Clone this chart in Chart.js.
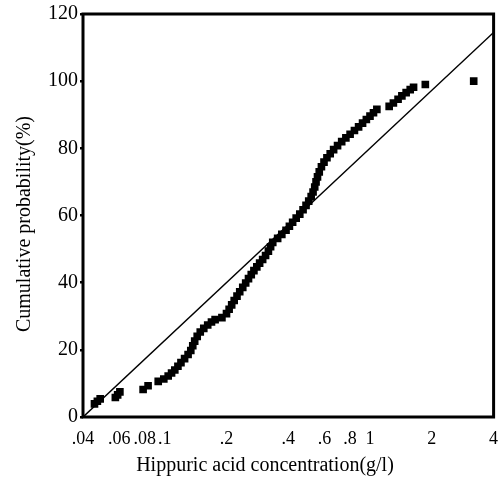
<!DOCTYPE html>
<html>
<head>
<meta charset="utf-8">
<script src="https://cdn.jsdelivr.net/npm/chart.js@4"></script>
<style>
  html, body { margin: 0; padding: 0; background: #fff; }
</style>
</head>
<body>
<canvas id="chart" width="499" height="480"></canvas>
<script>
// axis ticks
const xTickValues = [0.04, 0.06, 0.08, 0.1, 0.2, 0.4, 0.6, 0.8, 1, 2, 4];
const xTickLabels = [".04", ".06", ".08", ".1", ".2", ".4", ".6", ".8", "1", "2", "4"];
const yTickValues = [0, 20, 40, 60, 80, 100, 120];

const xTitle = "Hippuric acid concentration(g/l)";
const yTitle = "Cumulative probability(%)";

// observed points
const concentration = [
  0.0455, 0.047, 0.0485, 0.0575, 0.059, 0.0605, 0.0785, 0.083, 0.093, 0.099,
  0.104, 0.108, 0.112, 0.116, 0.12, 0.125, 0.13, 0.134, 0.137, 0.14,
  0.144, 0.149, 0.155, 0.162, 0.169, 0.176, 0.19, 0.2, 0.206, 0.212,
  0.218, 0.225, 0.232, 0.24, 0.248, 0.256, 0.264, 0.272, 0.281, 0.29,
  0.3, 0.31, 0.32, 0.328, 0.336, 0.355, 0.372, 0.39, 0.405, 0.42,
  0.437, 0.455, 0.472, 0.488, 0.503, 0.517, 0.528, 0.538, 0.546, 0.555,
  0.566, 0.58, 0.597, 0.617, 0.64, 0.665, 0.695, 0.728, 0.763, 0.8,
  0.84, 0.88, 0.92, 0.96, 1.0, 1.04, 1.08, 1.24, 1.3, 1.37,
  1.43, 1.5, 1.57, 1.63, 1.86, 3.2
];
const cumulative = [
  3.9, 4.7, 5.4, 5.8, 6.6, 7.5, 8.2, 9.3, 10.6, 11.3,
  12.2, 13.1, 14.0, 15.1, 16.2, 17.4, 18.6, 19.8, 21.2, 22.6,
  24.0, 25.3, 26.4, 27.4, 28.3, 29.0, 29.6, 30.8, 32.1, 33.4,
  34.7, 36.0, 37.3, 38.6, 39.9, 41.2, 42.4, 43.6, 44.7, 45.8,
  46.9, 48.1, 49.4, 50.7, 52.0, 53.2, 54.4, 55.6, 56.8, 58.0,
  59.2, 60.4, 61.7, 63.0, 64.3, 65.6, 67.0, 68.5, 70.0, 71.5,
  73.0, 74.5, 75.9, 77.2, 78.4, 79.6, 80.8, 82.0, 83.1, 84.2,
  85.3, 86.4, 87.5, 88.6, 89.6, 90.6, 91.6, 92.5, 93.5, 94.6,
  95.6, 96.6, 97.5, 98.2, 99.0, 100
];

// reference line end points
const refLineX = [0.04, 4];
const refLineY = [0, 114.5];

const FONT = "Liberation Serif";

// plot frame + titles
const frame = {
  id: "frame",
  afterDraw(chart) {
    const { ctx, chartArea: a } = chart;
    ctx.save();
    ctx.strokeStyle = "#000";
    ctx.lineWidth = 3;
    ctx.strokeRect(a.left, a.top, a.right - a.left, a.bottom - a.top);
    ctx.fillStyle = "#000";
    ctx.font = "20px '" + FONT + "'";
    ctx.textAlign = "center";
    ctx.textBaseline = "middle";
    ctx.fillText(xTitle, 265, 466);
    ctx.translate(25, 224);
    ctx.rotate(-Math.PI / 2);
    ctx.fillText(yTitle, 0, 0);
    ctx.restore();
  }
};

new Chart(document.getElementById("chart"), {
  type: "scatter",
  data: {
    datasets: [
      {
        label: "observed",
        data: concentration.map((x, i) => ({ x, y: cumulative[i] })),
        pointStyle: "rect",
        pointRadius: 5.4,
        backgroundColor: "#000",
        borderColor: "#000",
        borderWidth: 0,
        order: 0
      },
      {
        type: "line",
        label: "expected",
        data: refLineX.map((x, i) => ({ x, y: refLineY[i] })),
        borderColor: "#000",
        borderWidth: 1.5,
        pointRadius: 0,
        fill: false,
        order: 1
      }
    ]
  },
  options: {
    responsive: false,
    animation: false,
    layout: { padding: { left: 0, right: 4, top: 14, bottom: 0 } },
    plugins: { legend: { display: false }, tooltip: { enabled: false } },
    scales: {
      x: {
        type: "logarithmic",
        min: 0.04,
        max: 4,
        afterFit: (s) => { s.height = 63; s.paddingLeft = 0; s.paddingRight = 0; },
        afterBuildTicks: (s) => { s.ticks = xTickValues.map(v => ({ value: v })); },
        grid: { display: false },
        border: { display: false },
        ticks: {
          autoSkip: false,
          maxRotation: 0,
          padding: 3,
          color: "#000",
          font: { family: FONT, size: 18 },
          callback: (v) => xTickLabels[xTickValues.indexOf(v)]
        }
      },
      y: {
        min: 0,
        max: 120,
        afterFit: (s) => { s.width = 83; },
        afterBuildTicks: (s) => { s.ticks = yTickValues.map(v => ({ value: v })); },
        grid: { drawOnChartArea: false, tickLength: 3, color: "#000", lineWidth: 2.5 },
        border: { display: false },
        ticks: {
          padding: 2,
          color: "#000",
          font: { family: FONT, size: 20 }
        }
      }
    }
  },
  plugins: [frame]
});
</script>
</body>
</html>
